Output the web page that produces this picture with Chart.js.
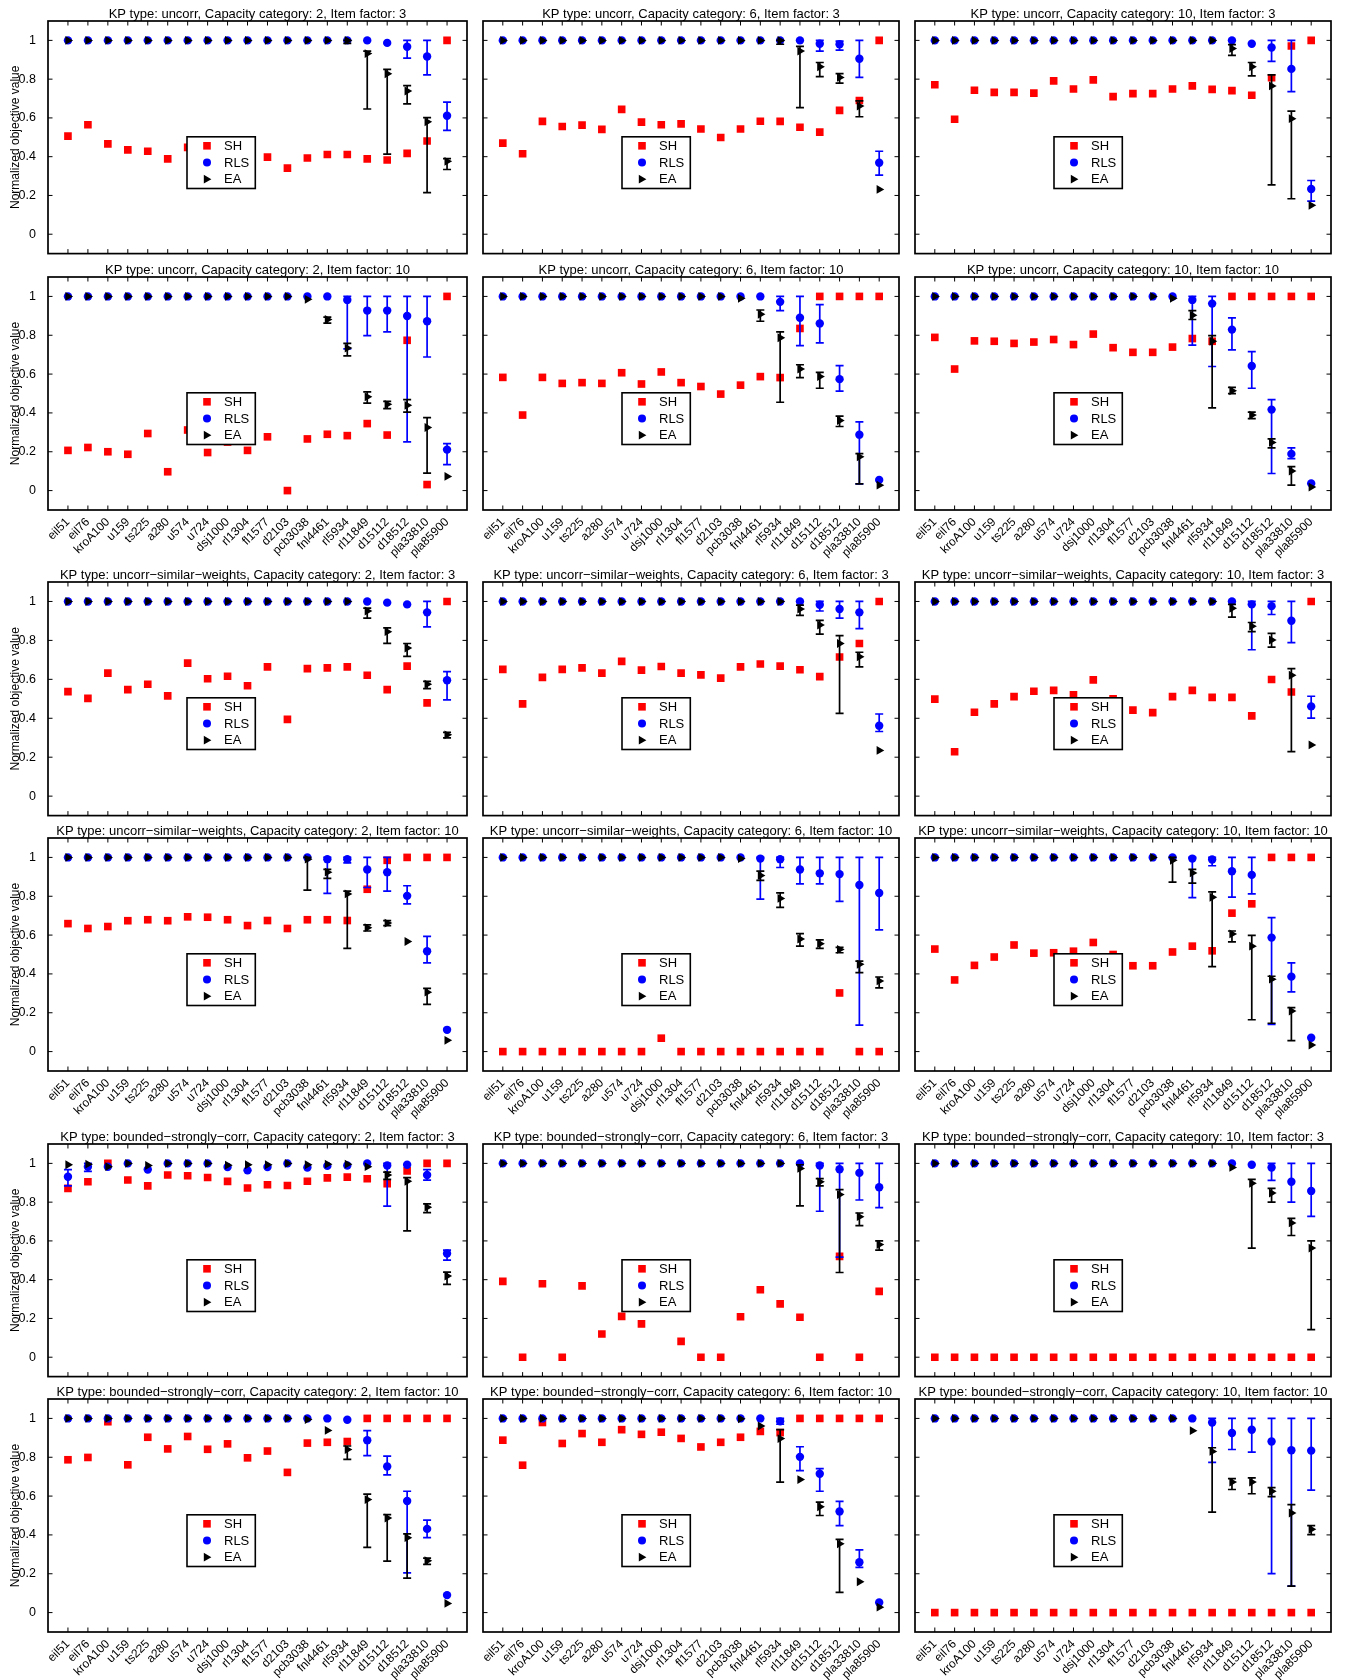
<!DOCTYPE html>
<html>
<head>
<meta charset="utf-8">
<script src="https://cdn.jsdelivr.net/npm/chart.js@4.4.0/dist/chart.umd.min.js"></script>
<style>
body{margin:0;background:#fff;width:1346px;height:1680px;position:relative;overflow:hidden}
canvas{position:absolute}
</style>
</head>
<body>
<script>
const N = null;

const CATEGORIES = ['eil51','eil76','kroA100','u159','ts225','a280','u574','u724','dsj1000','rl1304',
  'fl1577','d2103','pcb3038','fnl4461','rl5934','rl11849','d15112','d18512','pla33810','pla85900'];
const Y_TICKS = [0, 0.2, 0.4, 0.6, 0.8, 1];
const Y_TICK_LABELS = ['0', '0.2', '0.4', '0.6', '0.8', '1'];
const KP_TYPES = ['uncorr', 'uncorr\u2212similar\u2212weights', 'bounded\u2212strongly\u2212corr'];
const CAPACITIES = [2, 6, 10];
const ITEM_FACTORS = [3, 10];
const SERIES = ['SH', 'RLS', 'EA'];

// uncorr, item factor 3
const sh_u_c2_f3 = [0.506,0.565,0.466,0.435,0.428,0.389,0.448,0.42,0.42,0.42,0.398,0.341,0.393,0.411,0.411,0.389,0.383,0.417,0.481,1];
const rls_u_c2_f3 = [1,1,1,1,1,1,1,1,1,1,1,1,1,1,1,1,0.987,0.967,0.917,0.611];
const rlsErr_u_c2_f3 = [N,N,N,N,N,N,N,N,N,N,N,N,N,N,N,N,N,[0.908,1],[0.822,1],[0.536,0.681]];
const ea_u_c2_f3 = [1,1,1,1,1,1,1,1,1,1,1,1,1,1,1,0.932,0.828,0.739,0.58,0.376];
const eaErr_u_c2_f3 = [N,N,N,N,N,N,N,N,N,N,N,N,N,N,[0.985,1],[0.646,0.945],[0.413,0.85],[0.672,0.767],[0.215,0.602],[0.334,0.39]];

const sh_u_c6_f3 = [0.47,0.415,0.582,0.556,0.563,0.541,0.644,0.578,0.565,0.569,0.543,0.499,0.543,0.583,0.582,0.552,0.527,0.639,0.69,1];
const rls_u_c6_f3 = [1,1,1,1,1,1,1,1,1,1,1,1,1,1,1,1,0.983,0.98,0.905,0.369];
const rlsErr_u_c6_f3 = [N,N,N,N,N,N,N,N,N,N,N,N,N,N,N,N,[0.945,1],[0.95,0.996],[0.809,1],[0.305,0.428]];
const ea_u_c6_f3 = [1,1,1,1,1,1,1,1,1,1,1,1,1,1,1,0.945,0.864,0.809,0.661,0.231];
const eaErr_u_c6_f3 = [N,N,N,N,N,N,N,N,N,N,N,N,N,N,[0.98,1],[0.653,0.969],[0.813,0.886],[0.78,0.828],[0.606,0.688],N];

const sh_u_c10_f3 = [0.771,0.593,0.743,0.732,0.732,0.728,0.791,0.749,0.796,0.71,0.725,0.725,0.749,0.765,0.747,0.741,0.717,0.807,0.971,1];
const rls_u_c10_f3 = [1,1,1,1,1,1,1,1,1,1,1,1,1,1,1,1,0.983,0.963,0.853,0.233];
const rlsErr_u_c10_f3 = [N,N,N,N,N,N,N,N,N,N,N,N,N,N,N,N,N,[0.892,1],[0.736,1],[0.171,0.277]];
const ea_u_c10_f3 = [1,1,1,1,1,1,1,1,1,1,1,1,1,1,1,0.958,0.864,0.765,0.596,0.149];
const eaErr_u_c10_f3 = [N,N,N,N,N,N,N,N,N,N,N,N,N,N,N,[0.923,0.978],[0.817,0.886],[0.255,0.822],[0.183,0.635],N];

// uncorr, item factor 10
const sh_u_c2_f10 = [0.207,0.222,0.2,0.187,0.294,0.097,0.312,0.196,0.25,0.207,0.277,0,0.266,0.29,0.283,0.345,0.286,0.774,0.031,1];
const rls_u_c2_f10 = [1,1,1,1,1,1,1,1,1,1,1,1,1,1,0.982,0.927,0.927,0.899,0.872,0.211];
const rlsErr_u_c2_f10 = [N,N,N,N,N,N,N,N,N,N,N,N,N,N,[0.73,1],[0.798,1],[0.817,1],[0.251,1],[0.688,1],[0.134,0.242]];
const ea_u_c2_f10 = [1,1,1,1,1,1,1,1,1,1,1,1,0.985,0.881,0.734,0.483,0.444,0.439,0.325,0.073];
const eaErr_u_c2_f10 = [N,N,N,N,N,N,N,N,N,N,N,N,N,[0.862,0.893],[0.694,0.758],[0.45,0.508],[0.422,0.459],[0.404,0.468],[0.09,0.376],N];

const sh_u_c6_f10 = [0.583,0.389,0.583,0.552,0.556,0.552,0.607,0.549,0.611,0.556,0.536,0.497,0.543,0.587,0.582,0.835,1,1,1,1];
const rls_u_c6_f10 = [1,1,1,1,1,1,1,1,1,1,1,1,1,1,0.972,0.89,0.861,0.574,0.288,0.055];
const rlsErr_u_c6_f10 = [N,N,N,N,N,N,N,N,N,N,N,N,N,N,[0.927,1],[0.747,1],[0.761,0.958],[0.512,0.644],[0.035,0.354],N];
const ea_u_c6_f10 = [1,1,1,1,1,1,1,1,1,1,1,1,0.99,0.908,0.787,0.626,0.587,0.361,0.174,0.028];
const eaErr_u_c6_f10 = [N,N,N,N,N,N,N,N,N,N,N,N,N,[0.872,0.93],[0.455,0.817],[0.582,0.648],[0.527,0.609],[0.33,0.383],[0.035,0.19],N];

const sh_u_c10_f10 = [0.789,0.626,0.771,0.769,0.758,0.765,0.778,0.752,0.806,0.736,0.712,0.712,0.739,0.783,0.769,1,1,1,1,1];
const rls_u_c10_f10 = [1,1,1,1,1,1,1,1,1,1,1,1,1,0.982,0.963,0.829,0.642,0.417,0.189,0.037];
const rlsErr_u_c10_f10 = [N,N,N,N,N,N,N,N,N,N,N,N,N,[0.749,1],[0.639,1],[0.725,0.89],[0.527,0.716],[0.088,0.468],[0.165,0.22],N];
const ea_u_c10_f10 = [1,1,1,1,1,1,1,1,1,1,1,1,0.99,0.903,0.769,0.514,0.389,0.248,0.101,0.018];
const eaErr_u_c10_f10 = [N,N,N,N,N,N,N,N,N,N,N,N,N,[0.881,0.927],[0.426,0.798],[0.499,0.532],[0.371,0.404],[0.22,0.266],[0.028,0.123],N];

// uncorr-similar-weights, item factor 3
const sh_s_c2_f3 = [0.537,0.502,0.632,0.547,0.575,0.515,0.683,0.603,0.616,0.567,0.664,0.394,0.655,0.659,0.664,0.621,0.547,0.668,0.479,1];
const rls_s_c2_f3 = [1,1,1,1,1,1,1,1,1,1,1,1,1,1,1,1,0.994,0.985,0.944,0.595];
const rlsErr_s_c2_f3 = [N,N,N,N,N,N,N,N,N,N,N,N,N,N,N,N,N,N,[0.869,1],[0.494,0.64]];
const ea_s_c2_f3 = [1,1,1,1,1,1,1,1,1,1,1,1,1,1,1,0.951,0.845,0.761,0.575,0.315];
const eaErr_s_c2_f3 = [N,N,N,N,N,N,N,N,N,N,N,N,N,N,N,[0.914,0.966],[0.785,0.864],[0.718,0.784],[0.552,0.59],[0.299,0.328]];

const sh_s_c6_f3 = [0.651,0.474,0.61,0.651,0.659,0.632,0.692,0.647,0.666,0.632,0.623,0.606,0.664,0.679,0.668,0.649,0.614,0.715,0.784,1];
const rls_s_c6_f3 = [1,1,1,1,1,1,1,1,1,1,1,1,1,1,1,1,0.983,0.961,0.944,0.362];
const rlsErr_s_c6_f3 = [N,N,N,N,N,N,N,N,N,N,N,N,N,N,N,N,[0.951,1],[0.914,1],[0.86,1],[0.332,0.422]];
const ea_s_c6_f3 = [1,1,1,1,1,1,1,1,1,1,1,1,1,1,1,0.961,0.879,0.784,0.716,0.235];
const eaErr_s_c6_f3 = [N,N,N,N,N,N,N,N,N,N,N,N,N,N,N,[0.929,0.981],[0.832,0.903],[0.425,0.825],[0.664,0.739],N];

const sh_s_c10_f3 = [0.498,0.228,0.431,0.474,0.511,0.539,0.543,0.52,0.597,0.5,0.442,0.429,0.511,0.543,0.507,0.507,0.412,0.599,0.535,1];
const rls_s_c10_f3 = [1,1,1,1,1,1,1,1,1,1,1,1,1,1,1,1,0.985,0.976,0.901,0.461];
const rlsErr_s_c10_f3 = [N,N,N,N,N,N,N,N,N,N,N,N,N,N,N,N,[0.752,1],[0.933,1],[0.789,1],[0.401,0.513]];
const ea_s_c10_f3 = [1,1,1,1,1,1,1,1,1,1,1,1,1,1,1,0.965,0.873,0.802,0.621,0.263];
const eaErr_s_c10_f3 = [N,N,N,N,N,N,N,N,N,N,N,N,N,N,N,[0.92,0.985],[0.845,0.892],[0.765,0.836],[0.229,0.655],N];

// uncorr-similar-weights, item factor 10
const sh_s_c2_f10 = [0.659,0.634,0.644,0.674,0.679,0.674,0.694,0.692,0.679,0.649,0.675,0.634,0.679,0.679,0.675,0.836,0.985,1,1,1];
const rls_s_c2_f10 = [1,1,1,1,1,1,1,1,1,1,1,1,1,0.991,0.991,0.938,0.924,0.802,0.517,0.112];
const rlsErr_s_c2_f10 = [N,N,N,N,N,N,N,N,N,N,N,N,N,[0.815,1],[0.972,1],[0.845,1],[0.826,1],[0.761,0.854],[0.457,0.593],N];
const ea_s_c2_f10 = [1,1,1,1,1,1,1,1,1,1,1,1,0.991,0.924,0.812,0.638,0.662,0.567,0.306,0.058];
const eaErr_s_c2_f10 = [N,N,N,N,N,N,N,N,N,N,N,N,[0.832,1],[0.892,0.938],[0.532,0.826],[0.621,0.653],[0.649,0.674],N,[0.243,0.326],N];

const sh_s_c6_f10 = [0,0,0,0,0,0,0,0,0.069,0,0,0,0,0,0,0,0,0.302,0,0];
const rls_s_c6_f10 = [1,1,1,1,1,1,1,1,1,1,1,1,1,0.994,0.991,0.938,0.918,0.914,0.858,0.817];
const rlsErr_s_c6_f10 = [N,N,N,N,N,N,N,N,N,N,N,N,N,[0.785,1],[0.948,1],[0.864,1],[0.864,1],[0.774,1],[0.136,1],[0.627,1]];
const ea_s_c6_f10 = [1,1,1,1,1,1,1,1,1,1,1,1,0.994,0.907,0.789,0.58,0.556,0.526,0.45,0.364];
const eaErr_s_c6_f10 = [N,N,N,N,N,N,N,N,N,N,N,N,N,[0.882,0.929],[0.743,0.817],[0.543,0.608],[0.532,0.575],[0.509,0.537],[0.407,0.466],[0.328,0.384]];

const sh_s_c10_f10 = [0.528,0.369,0.444,0.487,0.549,0.507,0.509,0.517,0.562,0.5,0.442,0.442,0.513,0.543,0.519,0.713,0.761,1,1,1];
const rls_s_c10_f10 = [1,1,1,1,1,1,1,1,1,1,1,1,1,0.994,0.989,0.929,0.91,0.587,0.386,0.071];
const rlsErr_s_c10_f10 = [N,N,N,N,N,N,N,N,N,N,N,N,N,[0.793,1],[0.957,1],[0.795,1],[0.812,1],[0.14,0.69],[0.308,0.457],N];
const ea_s_c10_f10 = [1,1,1,1,1,1,1,1,1,1,1,1,0.985,0.92,0.795,0.606,0.543,0.373,0.209,0.034];
const eaErr_s_c10_f10 = [N,N,N,N,N,N,N,N,N,N,N,N,[0.873,1],[0.868,0.938],[0.438,0.823],[0.565,0.621],[0.164,0.599],[0.146,0.388],[0.056,0.226],N];

// bounded-strongly-corr, item factor 3
const sh_b_c2_f3 = [0.871,0.905,1,0.914,0.884,0.94,0.936,0.927,0.907,0.873,0.89,0.886,0.908,0.925,0.929,0.921,0.895,0.961,1,1];
const rls_b_c2_f3 = [0.931,0.983,0.983,1,0.968,1,1,1,0.981,0.964,0.981,1,0.979,0.987,0.989,1,0.989,0.993,0.94,0.535];
const rlsErr_b_c2_f3 = [[0.884,0.968],[0.959,1],N,N,N,N,N,N,N,N,N,N,N,N,N,N,[0.779,1],N,[0.914,0.968],[0.501,0.553]];
const ea_b_c2_f3 = [0.993,0.996,0.983,1,0.989,1,1,1,0.991,0.993,0.993,1,0.993,0.996,0.996,0.983,0.94,0.908,0.774,0.419];
const eaErr_b_c2_f3 = [N,N,N,N,N,N,N,N,N,N,N,N,N,N,N,N,[0.918,0.955],[0.652,0.927],[0.746,0.791],[0.376,0.439]];

const sh_b_c6_f3 = [0.391,0,0.379,0,0.368,0.12,0.211,0.172,0.35,0.082,0,0,0.209,0.348,0.275,0.206,0,0.52,0,0.34];
const rls_b_c6_f3 = [1,1,1,1,1,1,1,1,1,1,1,1,1,1,1,1,0.989,0.97,0.951,0.877];
const rlsErr_b_c6_f3 = [N,N,N,N,N,N,N,N,N,N,N,N,N,N,N,N,[0.753,1],[0.516,1],[0.811,1],[0.772,1]];
const ea_b_c6_f3 = [1,1,1,1,1,1,1,1,1,1,1,1,1,1,1,0.974,0.905,0.839,0.725,0.581];
const eaErr_b_c6_f3 = [N,N,N,N,N,N,N,N,N,N,N,N,N,N,N,[0.781,0.993],[0.884,0.921],[0.437,0.865],[0.679,0.744],[0.553,0.6]];

const sh_b_c10_f3 = [0,0,0,0,0,0,0,0,0,0,0,0,0,0,0,0,0,0,0,0];
const rls_b_c10_f3 = [1,1,1,1,1,1,1,1,1,1,1,1,1,1,1,1,0.993,0.979,0.905,0.858];
const rlsErr_b_c10_f3 = [N,N,N,N,N,N,N,N,N,N,N,N,N,N,N,N,N,[0.912,1],[0.8,1],[0.727,1]];
const ea_b_c10_f3 = [1,1,1,1,1,1,1,1,1,1,1,1,1,1,1,0.979,0.897,0.847,0.693,0.563];
const eaErr_b_c10_f3 = [N,N,N,N,N,N,N,N,N,N,N,N,N,N,N,N,[0.563,0.918],[0.8,0.871],[0.628,0.716],[0.142,0.6]];

// bounded-strongly-corr, item factor 10
const sh_b_c2_f10 = [0.787,0.799,0.983,0.761,0.903,0.843,0.907,0.841,0.869,0.797,0.832,0.722,0.873,0.877,0.881,1,1,1,1,1];
const rls_b_c2_f10 = [1,1,1,1,1,1,1,1,1,1,1,1,1,1,0.993,0.888,0.752,0.575,0.431,0.09];
const rlsErr_b_c2_f10 = [N,N,N,N,N,N,N,N,N,N,N,N,N,N,N,[0.808,0.937],[0.709,0.806],[0.205,0.625],[0.386,0.476],N];
const ea_b_c2_f10 = [1,1,1,1,1,1,1,1,1,1,1,1,0.994,0.938,0.84,0.582,0.487,0.386,0.267,0.047];
const eaErr_b_c2_f10 = [N,N,N,N,N,N,N,N,N,N,N,N,N,N,[0.789,0.858],[0.336,0.61],[0.265,0.504],[0.177,0.405],[0.248,0.28],N];

const sh_b_c6_f10 = [0.888,0.759,0.979,0.871,0.922,0.877,0.942,0.918,0.929,0.897,0.853,0.877,0.903,0.933,0.927,1,1,1,1,1];
const rls_b_c6_f10 = [1,1,1,1,1,1,1,1,1,1,1,1,1,1,0.985,0.802,0.715,0.521,0.259,0.052];
const rlsErr_b_c6_f10 = [N,N,N,N,N,N,N,N,N,N,N,N,N,N,[0.97,1],[0.731,0.854],[0.625,0.741],[0.448,0.573],[0.233,0.323],N];
const ea_b_c6_f10 = [1,1,1,1,1,1,1,1,1,1,1,1,0.998,0.961,0.896,0.685,0.545,0.354,0.159,0.028];
const eaErr_b_c6_f10 = [N,N,N,N,N,N,N,N,N,N,N,N,N,N,[0.672,0.942],N,[0.5,0.569],[0.104,0.377],N,N];

const sh_b_c10_f10 = [0,0,0,0,0,0,0,0,0,0,0,0,0,0,0,0,0,0,0,0];
const rls_b_c10_f10 = [1,1,1,1,1,1,1,1,1,1,1,1,1,1,0.979,0.925,0.942,0.881,0.836,0.834];
const rlsErr_b_c10_f10 = [N,N,N,N,N,N,N,N,N,N,N,N,N,N,[0.774,1],[0.84,1],[0.826,1],[0.201,1],[0.136,1],[0.631,1]];
const ea_b_c10_f10 = [1,1,1,1,1,1,1,1,1,1,1,1,1,0.937,0.83,0.672,0.672,0.625,0.513,0.429];
const eaErr_b_c10_f10 = [N,N,N,N,N,N,N,N,N,N,N,N,N,N,[0.517,0.849],[0.634,0.69],[0.612,0.694],[0.597,0.644],[0.136,0.556],[0.401,0.448]];

// panel grid: rows = kp type x item factor, cols = capacity category
const PANELS = [
  [0,0,0, sh_u_c2_f3, rls_u_c2_f3, rlsErr_u_c2_f3, ea_u_c2_f3, eaErr_u_c2_f3],
  [0,1,0, sh_u_c6_f3, rls_u_c6_f3, rlsErr_u_c6_f3, ea_u_c6_f3, eaErr_u_c6_f3],
  [0,2,0, sh_u_c10_f3, rls_u_c10_f3, rlsErr_u_c10_f3, ea_u_c10_f3, eaErr_u_c10_f3],
  [0,0,1, sh_u_c2_f10, rls_u_c2_f10, rlsErr_u_c2_f10, ea_u_c2_f10, eaErr_u_c2_f10],
  [0,1,1, sh_u_c6_f10, rls_u_c6_f10, rlsErr_u_c6_f10, ea_u_c6_f10, eaErr_u_c6_f10],
  [0,2,1, sh_u_c10_f10, rls_u_c10_f10, rlsErr_u_c10_f10, ea_u_c10_f10, eaErr_u_c10_f10],
  [1,0,0, sh_s_c2_f3, rls_s_c2_f3, rlsErr_s_c2_f3, ea_s_c2_f3, eaErr_s_c2_f3],
  [1,1,0, sh_s_c6_f3, rls_s_c6_f3, rlsErr_s_c6_f3, ea_s_c6_f3, eaErr_s_c6_f3],
  [1,2,0, sh_s_c10_f3, rls_s_c10_f3, rlsErr_s_c10_f3, ea_s_c10_f3, eaErr_s_c10_f3],
  [1,0,1, sh_s_c2_f10, rls_s_c2_f10, rlsErr_s_c2_f10, ea_s_c2_f10, eaErr_s_c2_f10],
  [1,1,1, sh_s_c6_f10, rls_s_c6_f10, rlsErr_s_c6_f10, ea_s_c6_f10, eaErr_s_c6_f10],
  [1,2,1, sh_s_c10_f10, rls_s_c10_f10, rlsErr_s_c10_f10, ea_s_c10_f10, eaErr_s_c10_f10],
  [2,0,0, sh_b_c2_f3, rls_b_c2_f3, rlsErr_b_c2_f3, ea_b_c2_f3, eaErr_b_c2_f3],
  [2,1,0, sh_b_c6_f3, rls_b_c6_f3, rlsErr_b_c6_f3, ea_b_c6_f3, eaErr_b_c6_f3],
  [2,2,0, sh_b_c10_f3, rls_b_c10_f3, rlsErr_b_c10_f3, ea_b_c10_f3, eaErr_b_c10_f3],
  [2,0,1, sh_b_c2_f10, rls_b_c2_f10, rlsErr_b_c2_f10, ea_b_c2_f10, eaErr_b_c2_f10],
  [2,1,1, sh_b_c6_f10, rls_b_c6_f10, rlsErr_b_c6_f10, ea_b_c6_f10, eaErr_b_c6_f10],
  [2,2,1, sh_b_c10_f10, rls_b_c10_f10, rlsErr_b_c10_f10, ea_b_c10_f10, eaErr_b_c10_f10]
];

// page layout (axes frames in page px)
const COL_X = [47.7, 483.2, 915], COL_W = [419.5, 416, 416];
const ROW_Y = [20.9, 276.5, 582.2, 838, 1143.5, 1398.9];
const ROW_H = 233.4;
const L = 46, R = 6, T = 20, B_LABELS = 64, B_PLAIN = 5;
const FONT = '"Liberation Sans", Arial, sans-serif';
const TICK = 4.5, CAP = 4;

const toPoints = vals => vals.map((v, i) => ({x: i + 1, y: v}));

const errorBars = {
  id: 'errorBars',
  beforeDatasetDraw(chart, args) {
    const ds = chart.data.datasets[args.index];
    if (!ds.errors) return;
    const {ctx, scales: {x, y}} = chart;
    ctx.save();
    ctx.strokeStyle = ds.backgroundColor;
    ctx.lineWidth = 1.7;
    ctx.beginPath();
    ds.errors.forEach((e, i) => {
      if (!e) return;
      const px = x.getPixelForValue(i + 1), lo = y.getPixelForValue(e[0]), hi = y.getPixelForValue(e[1]);
      ctx.moveTo(px, lo); ctx.lineTo(px, hi);
      ctx.moveTo(px - CAP, lo); ctx.lineTo(px + CAP, lo);
      ctx.moveTo(px - CAP, hi); ctx.lineTo(px + CAP, hi);
    });
    ctx.stroke();
    ctx.restore();
  }
};

// matlab style box with inward ticks
const axesBox = {
  id: 'axesBox',
  afterDatasetsDraw(chart) {
    const {ctx, chartArea: a, scales: {x, y}} = chart;
    ctx.save();
    ctx.strokeStyle = '#000';
    ctx.lineWidth = 1;
    ctx.beginPath();
    x.ticks.forEach(t => {
      const px = x.getPixelForValue(t.value);
      ctx.moveTo(px, a.bottom); ctx.lineTo(px, a.bottom - TICK);
      ctx.moveTo(px, a.top); ctx.lineTo(px, a.top + TICK);
    });
    y.ticks.forEach(t => {
      const py = y.getPixelForValue(t.value);
      ctx.moveTo(a.left, py); ctx.lineTo(a.left + TICK, py);
      ctx.moveTo(a.right, py); ctx.lineTo(a.right - TICK, py);
    });
    ctx.stroke();
    ctx.lineWidth = 1.7;
    ctx.strokeRect(a.left, a.top, a.width, a.height);
    ctx.restore();
  }
};

const boxLegend = {
  id: 'boxLegend',
  afterDraw(chart) {
    const {ctx, chartArea: a} = chart;
    const bx = a.left + 139, by = a.top + 115.8, bw = 68.3, bh = 51.7;
    ctx.save();
    ctx.fillStyle = '#fff';
    ctx.fillRect(bx, by, bw, bh);
    ctx.strokeStyle = '#000';
    ctx.lineWidth = 1.6;
    ctx.strokeRect(bx, by, bw, bh);
    ctx.font = '13px ' + FONT;
    ctx.textBaseline = 'middle';
    chart.data.datasets.forEach((ds, i) => {
      const cy = by + 9 + i * 16.7, mx = bx + 20;
      ctx.fillStyle = ds.backgroundColor;
      ctx.beginPath();
      if (ds.pointStyle === 'rect') ctx.rect(mx - 3.8, cy - 3.8, 7.6, 7.6);
      else if (ds.pointStyle === 'circle') ctx.arc(mx, cy, 4, 0, 2 * Math.PI);
      else { ctx.moveTo(mx + 4.4, cy); ctx.lineTo(mx - 3.2, cy - 4.4); ctx.lineTo(mx - 3.2, cy + 4.4); ctx.closePath(); }
      ctx.fill();
      ctx.fillStyle = '#000';
      ctx.fillText(ds.label, bx + 37, cy + 0.5);
    });
    ctx.restore();
  }
};

function makePanel(p) {
  const [kp, col, fi, sh, rls, rlsErr, ea, eaErr] = p;
  const row = kp * 2 + fi;
  const showX = fi === 1, showY = col === 0;
  const fx = Math.round(COL_X[col]), fy = Math.round(ROW_Y[row]);
  const fr = Math.round(COL_X[col] + COL_W[col]), fb = Math.round(ROW_Y[row] + ROW_H);
  const B = showX ? B_LABELS : B_PLAIN;
  const left = fx - L, top = fy - T;
  const w = fr + R - left, h = fb + B - top;

  const cv = document.createElement('canvas');
  cv.width = w; cv.height = h;
  cv.style.left = left + 'px'; cv.style.top = top + 'px';
  cv.style.width = w + 'px'; cv.style.height = h + 'px';
  document.body.appendChild(cv);

  new Chart(cv.getContext('2d'), {
    type: 'scatter',
    data: {
      datasets: [
        {label: SERIES[0], data: toPoints(sh), order: 3, pointStyle: 'rect', pointRadius: 5.4,
          backgroundColor: '#ff0000', borderWidth: 0},
        {label: SERIES[1], data: toPoints(rls), errors: rlsErr, order: 2, pointStyle: 'circle', pointRadius: 4.2,
          backgroundColor: '#0000ff', borderWidth: 0},
        {label: SERIES[2], data: toPoints(ea), errors: eaErr, order: 1, pointStyle: 'triangle', rotation: 90,
          pointRadius: 5.1, backgroundColor: '#000000', borderWidth: 0}
      ]
    },
    options: {
      responsive: false, animation: false, devicePixelRatio: 1, events: [],
      layout: {padding: {left: 0, right: R, top: 0, bottom: 0}},
      plugins: {
        legend: {display: false}, tooltip: {enabled: false},
        title: {display: true, fullSize: false, color: '#000',
          text: `KP type: ${KP_TYPES[kp]}, Capacity category: ${CAPACITIES[col]}, Item factor: ${ITEM_FACTORS[fi]}`,
          font: {family: FONT, size: 13, weight: 'normal', lineHeight: 1},
          padding: {top: T - 13, bottom: 0}}
      },
      scales: {
        x: {
          type: 'linear', min: 0, max: CATEGORIES.length + 1,
          grid: {display: false}, border: {display: false},
          afterBuildTicks: s => { s.ticks = CATEGORIES.map((c, i) => ({value: i + 1})); },
          afterFit: s => { s.height = B; s.paddingLeft = 0; s.paddingRight = 0; },
          ticks: {display: showX, autoSkip: false, minRotation: 45, maxRotation: 45, padding: -3,
            color: '#000', font: {family: FONT, size: 12},
            callback: (v, i) => CATEGORIES[i]}
        },
        y: {
          min: -0.1, max: 1.1,
          grid: {display: false}, border: {display: false},
          afterBuildTicks: s => { s.ticks = Y_TICKS.map(v => ({value: v})); },
          afterFit: s => { s.width = L; s.paddingTop = 0; s.paddingBottom = 0; },
          ticks: {display: showY, padding: 4, color: '#000', font: {family: FONT, size: 12.5},
            callback: (v, i) => Y_TICK_LABELS[i]},
          title: {display: showY, text: 'Normalized objective value', color: '#000',
            font: {family: FONT, size: 12}, padding: {top: 6, bottom: 0}}
        }
      }
    },
    plugins: [errorBars, axesBox, boxLegend]
  });
}

PANELS.forEach(makePanel);
</script>
</body>
</html>
